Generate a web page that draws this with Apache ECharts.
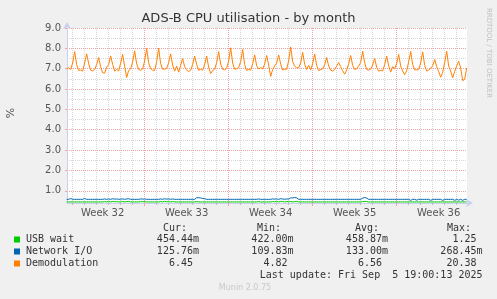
<!DOCTYPE html>
<html>
<head>
<meta charset="utf-8">
<script src="https://cdn.jsdelivr.net/npm/echarts@6.0.0/dist/echarts.min.js"></script>
<style>
  html, body { margin: 0; padding: 0; background: #f0f0f0; }
  #chart { width: 497px; height: 299px; }
</style>
</head>
<body>
<div id="chart"></div>
<script>
// x is days since Mon Aug 4 2025 00:00, one sample every 4 hours from Aug 4 12:00
const X_MIN = 0.53;
const X_MAX = 33.86;
const SAMPLE_START = 0.5;
const SAMPLE_STEP = 1 / 6;

const weekLabels = ["Week 32", "Week 33", "Week 34", "Week 35", "Week 36"];
const weekMid = [3.5, 10.5, 17.5, 24.5, 31.5];
const weekStarts = [7, 14, 21, 28];

const yLabels = [1, 2, 3, 4, 5, 6, 7, 8, 9];
const yMinor = [0.5, 1.5, 2.5, 3.5, 4.5, 5.5, 6.5, 7.5, 8.5];

const seriesNames = ["USB wait", "Network I/O", "Demodulation"];
const seriesColors = ["#00cc00", "#0066b3", "#ff8000"];
const curVals = ["454.44m", "125.76m", "6.45 "];
const minVals = ["422.00m", "109.83m", "4.82 "];
const avgVals = ["458.87m", "133.00m", "6.56 "];
const maxVals = ["1.25 ", "268.45m", "20.38 "];
const lastUpdate = "Last update: Fri Sep  5 19:00:13 2025";

const usbWait = [
  0.45, 0.45, 0.45,
  0.45, 0.45, 0.45, 0.45, 0.45, 0.45,
  0.45, 0.45, 0.45, 0.45, 0.45, 0.45,
  0.45, 0.45, 0.45, 0.45, 0.47, 0.45,
  0.47, 0.45, 0.48, 0.46, 0.47, 0.45,
  0.46, 0.47, 0.45, 0.47, 0.48, 0.45,
  0.45, 0.45, 0.45, 0.45, 0.47, 0.46,
  0.47, 0.45, 0.45, 0.45, 0.45, 0.45,
  0.45, 0.45, 0.47, 0.45, 0.48, 0.46,
  0.47, 0.45, 0.47, 0.45, 0.45, 0.45,
  0.45, 0.45, 0.45, 0.45, 0.45, 0.45,
  0.45, 0.45, 0.47, 0.45, 0.45, 0.45,
  0.45, 0.45, 0.45, 0.45, 0.45, 0.45,
  0.45, 0.45, 0.45, 0.45, 0.45, 0.45,
  0.45, 0.45, 0.45, 0.45, 0.45, 0.45,
  0.45, 0.45, 0.45, 0.45, 0.45, 0.45,
  0.45, 0.45, 0.45, 0.47, 0.45, 0.45,
  0.45, 0.45, 0.45, 0.45, 0.47, 0.46,
  0.47, 0.45, 0.48, 0.47, 0.45, 0.47,
  0.46, 0.47, 0.45, 0.47, 0.48, 0.45,
  0.45, 0.45, 0.45, 0.45, 0.45, 0.45,
  0.45, 0.45, 0.45, 0.45, 0.45, 0.45,
  0.45, 0.45, 0.45, 0.45, 0.45, 0.45,
  0.45, 0.45, 0.45, 0.45, 0.45, 0.45,
  0.45, 0.45, 0.45, 0.45, 0.45, 0.45,
  0.45, 0.47, 0.48, 0.47, 0.45, 0.45,
  0.45, 0.45, 0.45, 0.45, 0.45, 0.45,
  0.45, 0.45, 0.45, 0.45, 0.45, 0.45,
  0.45, 0.45, 0.45, 0.45, 0.45, 0.45,
  0.45, 0.45, 0.45, 0.45, 0.45, 0.45,
  0.45, 0.45, 0.45, 0.45, 0.45, 0.45,
  0.45, 0.45, 0.45, 0.45, 0.45, 0.45,
  0.45, 0.45, 0.45, 0.45, 0.45, 0.45,
  0.45, 0.45, 0.45, 0.45, 0.45, 0.45
];

const networkIO = [
  0.13, 0.13, 0.17,
  0.13, 0.13, 0.13, 0.13, 0.13, 0.13,
  0.17, 0.13, 0.13, 0.13, 0.13, 0.13,
  0.13, 0.13, 0.13, 0.13, 0.13, 0.13,
  0.13, 0.13, 0.13, 0.13, 0.13, 0.13,
  0.13, 0.13, 0.13, 0.13, 0.13, 0.13,
  0.13, 0.13, 0.13, 0.13, 0.13, 0.13,
  0.13, 0.13, 0.13, 0.13, 0.13, 0.13,
  0.13, 0.13, 0.13, 0.13, 0.13, 0.13,
  0.13, 0.13, 0.13, 0.13, 0.13, 0.13,
  0.13, 0.13, 0.13, 0.13, 0.13, 0.13,
  0.13, 0.13, 0.19, 0.21, 0.20, 0.17,
  0.16, 0.13, 0.13, 0.13, 0.13, 0.13,
  0.13, 0.13, 0.13, 0.13, 0.13, 0.13,
  0.13, 0.13, 0.13, 0.13, 0.13, 0.13,
  0.13, 0.13, 0.13, 0.13, 0.13, 0.13,
  0.13, 0.13, 0.13, 0.13, 0.13, 0.13,
  0.13, 0.13, 0.13, 0.13, 0.13, 0.13,
  0.13, 0.13, 0.13, 0.13, 0.13, 0.13,
  0.13, 0.18, 0.20, 0.20, 0.17, 0.13,
  0.13, 0.13, 0.13, 0.13, 0.13, 0.13,
  0.13, 0.13, 0.13, 0.13, 0.13, 0.13,
  0.13, 0.13, 0.13, 0.13, 0.13, 0.13,
  0.13, 0.13, 0.13, 0.13, 0.13, 0.13,
  0.13, 0.13, 0.13, 0.13, 0.13, 0.13,
  0.13, 0.17, 0.19, 0.17, 0.13, 0.13,
  0.13, 0.13, 0.13, 0.13, 0.13, 0.13,
  0.13, 0.13, 0.13, 0.13, 0.13, 0.13,
  0.13, 0.13, 0.13, 0.13, 0.13, 0.13,
  0.13, 0.08, 0.13, 0.13, 0.09, 0.13,
  0.13, 0.13, 0.13, 0.13, 0.13, 0.08,
  0.13, 0.13, 0.13, 0.13, 0.13, 0.08,
  0.13, 0.13, 0.13, 0.13, 0.13, 0.08,
  0.13, 0.09, 0.13, 0.08, 0.13, 0.13
];

// one row per day: 00h 04h 08h 12h 16h 20h (first row starts at 12h)
const demodulation = [
  6.40, 6.47, 6.33,
  6.70, 7.26, 6.62, 6.33, 6.36, 6.30,
  6.66, 7.15, 6.68, 6.35, 6.31, 6.38,
  6.62, 6.97, 6.52, 6.22, 6.18, 6.50,
  6.60, 7.05, 6.60, 6.29, 6.36, 6.31,
  6.68, 7.10, 6.55, 5.97, 6.30, 6.41,
  6.75, 7.30, 6.66, 6.38, 6.32, 6.40,
  6.78, 7.41, 6.72, 6.42, 6.35, 6.33,
  6.76, 7.42, 6.65, 6.40, 6.37, 6.42,
  6.70, 7.15, 6.58, 6.30, 6.55, 6.25,
  6.58, 6.92, 6.52, 6.35, 6.28, 6.34,
  6.62, 7.04, 6.55, 6.26, 6.32, 6.30,
  6.60, 7.04, 6.50, 6.18, 6.33, 6.39,
  6.72, 7.26, 6.65, 6.40, 6.36, 6.44,
  6.80, 7.45, 6.70, 6.39, 6.42, 6.47,
  6.76, 7.37, 6.62, 6.33, 6.39, 6.35,
  6.66, 7.10, 6.56, 6.38, 6.47, 6.41,
  6.65, 7.07, 6.60, 6.04, 6.36, 6.55,
  6.68, 7.10, 6.62, 6.33, 6.40, 6.37,
  6.80, 7.42, 6.70, 6.45, 6.40, 6.47,
  6.70, 7.22, 6.64, 6.38, 6.58, 6.36,
  6.66, 7.14, 6.58, 6.33, 6.37, 6.41,
  6.62, 6.97, 6.55, 6.35, 6.30, 6.38,
  6.55, 6.72, 6.52, 6.32, 6.15, 6.36,
  6.66, 7.07, 6.58, 6.38, 6.41, 6.55,
  6.72, 7.22, 6.62, 6.32, 6.35, 6.40,
  6.60, 6.92, 6.50, 6.30, 6.34, 6.31,
  6.62, 7.04, 6.56, 6.25, 6.52, 6.42,
  6.68, 7.12, 6.55, 6.30, 6.13, 6.33,
  6.76, 7.32, 6.62, 6.36, 6.40, 6.38,
  6.70, 7.25, 6.58, 6.30, 6.34, 6.50,
  6.56, 6.87, 6.52, 6.28, 6.00, 6.30,
  6.72, 7.28, 6.55, 6.30, 5.97, 6.33,
  6.55, 6.82, 6.45, 5.88, 5.90, 6.46
];

const dayTicks = [];
for (let d = 1; d <= 33; d++) {
  if (weekStarts.indexOf(d) < 0) dayTicks.push(d);
}

// munin draws these as STACKed lines, so each line sits on the sum below it
const layers = [usbWait, networkIO, demodulation];
const stacked = [];
layers.forEach((values, k) => {
  stacked.push(values.map((v, i) => {
    let base = k > 0 ? stacked[k - 1][i][1] : 0;
    return [SAMPLE_START + i * SAMPLE_STEP, base + v];
  }));
});

const FONT = "DejaVu Sans";
const MONO = "DejaVu Sans Mono";
const AXIS_COLOR = "#c9cff0";
const MINOR_GRID = "#d6d6d6";
const MAJOR_GRID = "#eea4a4";

let chart = echarts.init(document.getElementById("chart"));

let rowY = [239.5, 251.5, 263.5];
let graphics = [
  { type: "text", x: 163, y: 228, style: { text: "Cur:", font: "10px " + MONO, fill: "#333", verticalAlign: "middle" } },
  { type: "text", x: 257, y: 228, style: { text: "Min:", font: "10px " + MONO, fill: "#333", verticalAlign: "middle" } },
  { type: "text", x: 355, y: 228, style: { text: "Avg:", font: "10px " + MONO, fill: "#333", verticalAlign: "middle" } },
  { type: "text", x: 447, y: 228, style: { text: "Max:", font: "10px " + MONO, fill: "#333", verticalAlign: "middle" } },
  { type: "text", x: 482.5, y: 275, style: { text: lastUpdate, font: "10px " + MONO, fill: "#333", align: "right", verticalAlign: "middle" } },
  { type: "text", x: 245, y: 288, style: { text: "Munin 2.0.75", font: "8px " + FONT, fill: "#c8c8c8", align: "center", verticalAlign: "middle" } },
  { type: "text", x: 488.5, y: 53, rotation: -Math.PI / 2, style: { text: "RRDTOOL / TOBI OETIKER", font: "7px " + FONT, fill: "#c0c0c0", align: "center", verticalAlign: "middle" } },
  { type: "text", x: 11, y: 113, rotation: Math.PI / 2, style: { text: "%", font: "11px " + FONT, fill: "#555", align: "center", verticalAlign: "middle" } },
];
seriesNames.forEach((name, i) => {
  graphics.push({ type: "rect", shape: { x: 14, y: rowY[i] - 3, width: 6, height: 6 }, style: { fill: seriesColors[i] } });
  graphics.push({ type: "text", x: 26, y: rowY[i], style: { text: name, font: "10px " + MONO, fill: "#333", verticalAlign: "middle" } });
  graphics.push({ type: "text", x: 199, y: rowY[i], style: { text: curVals[i], font: "10px " + MONO, fill: "#333", align: "right", verticalAlign: "middle" } });
  graphics.push({ type: "text", x: 293.5, y: rowY[i], style: { text: minVals[i], font: "10px " + MONO, fill: "#333", align: "right", verticalAlign: "middle" } });
  graphics.push({ type: "text", x: 388, y: rowY[i], style: { text: avgVals[i], font: "10px " + MONO, fill: "#333", align: "right", verticalAlign: "middle" } });
  graphics.push({ type: "text", x: 482.5, y: rowY[i], style: { text: maxVals[i], font: "10px " + MONO, fill: "#333", align: "right", verticalAlign: "middle" } });
});

let option = {
  backgroundColor: "#f0f0f0",
  animation: false,
  title: {
    text: "ADS-B CPU utilisation - by month",
    left: "center",
    top: 12,
    padding: 0,
    textStyle: { fontFamily: FONT, fontSize: 13, fontWeight: "normal", color: "#333" },
  },
  grid: { left: 67, top: 28, width: 400, height: 175, show: true, backgroundColor: "#fff", borderWidth: 0 },
  xAxis: [
    {
      type: "value", position: "bottom", min: X_MIN, max: X_MAX,
      axisLine: { show: true, onZero: false, lineStyle: { color: AXIS_COLOR }, symbol: ["none", "arrow"], symbolSize: [6, 7], symbolOffset: [0, 6] },
      axisTick: { show: true, customValues: dayTicks, length: 2, lineStyle: { color: "#bbb" } },
      axisLabel: { show: false },
      splitLine: { show: true, lineStyle: { color: MINOR_GRID, type: [1, 1] } },
    },
    {
      type: "value", position: "bottom", min: X_MIN, max: X_MAX,
      axisLine: { show: false },
      axisTick: { show: true, customValues: weekStarts, length: 3, lineStyle: { color: MAJOR_GRID } },
      axisLabel: { show: false },
      splitLine: { show: true, lineStyle: { color: MAJOR_GRID, type: [1, 1] } },
    },
    {
      type: "value", position: "bottom", min: X_MIN, max: X_MAX,
      axisLine: { show: false },
      axisTick: { show: false, customValues: weekMid },
      splitLine: { show: false },
      axisLabel: {
        customValues: weekMid, margin: 5, color: "#555", fontSize: 10, fontFamily: FONT,
        formatter: (v) => weekLabels[weekMid.indexOf(v)],
      },
    },
  ],
  yAxis: [
    {
      type: "value", position: "left", min: 0.4, max: 9,
      axisLine: { show: true, onZero: false, lineStyle: { color: AXIS_COLOR }, symbol: ["none", "arrow"], symbolSize: [6, 7], symbolOffset: [0, 6] },
      axisTick: { show: true, customValues: yLabels, length: 2, lineStyle: { color: MAJOR_GRID } },
      axisLabel: { customValues: yLabels, margin: 6, color: "#555", fontSize: 10, fontFamily: FONT, formatter: (v) => v.toFixed(1) },
      splitLine: { show: true, lineStyle: { color: MAJOR_GRID, type: [1, 1] } },
    },
    {
      type: "value", position: "left", min: 0.4, max: 9,
      axisLine: { show: false },
      axisTick: { show: false, customValues: yMinor },
      axisLabel: { show: false },
      splitLine: { show: true, lineStyle: { color: MINOR_GRID, type: [1, 1] } },
    },
  ],
  series: seriesNames.map((name, k) => ({
    name: name,
    type: "line",
    symbol: "none",
    data: stacked[k],
    lineStyle: { width: 1, color: seriesColors[k] },
    z: 3 + k,
  })),
  graphic: graphics,
};
chart.setOption(option);
</script>
</body>
</html>
